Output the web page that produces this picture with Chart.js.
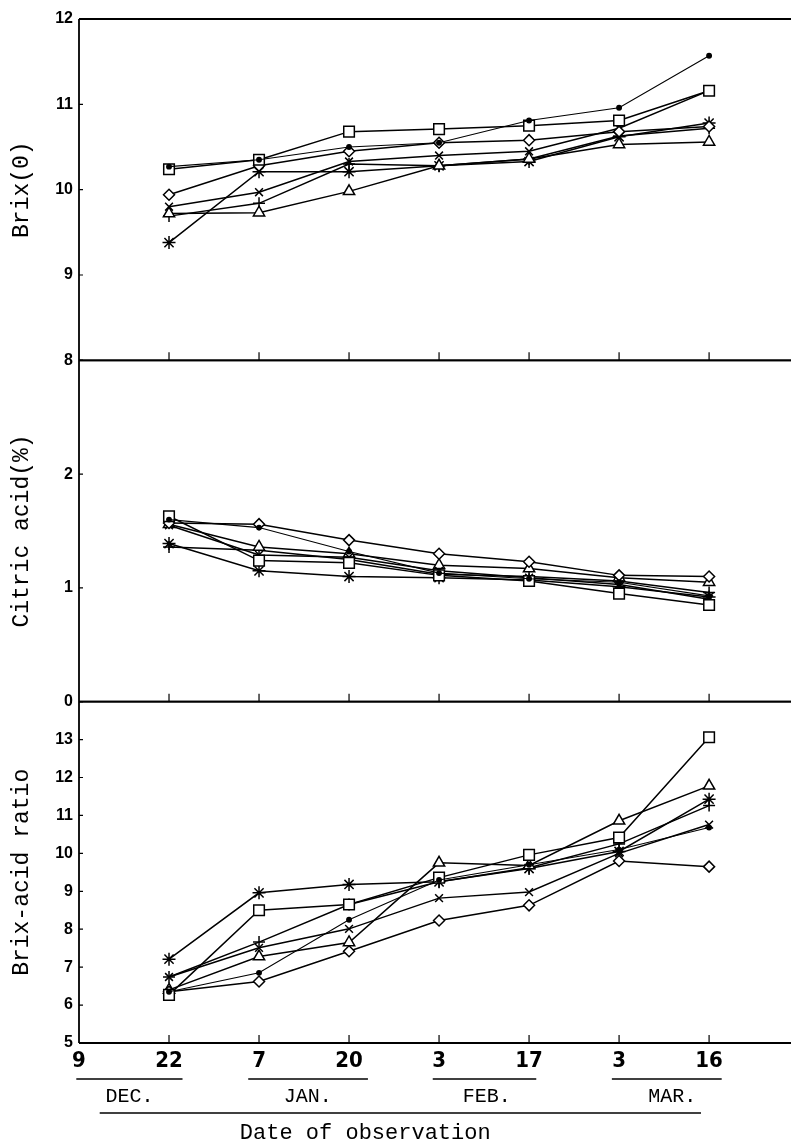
<!DOCTYPE html>
<html>
<head>
<meta charset="utf-8">
<script src="https://cdn.jsdelivr.net/npm/chart.js@4.4.0/dist/chart.umd.min.js"></script>
<style>
  html, body { margin: 0; padding: 0; background: #fff; }
  #wrap { position: relative; width: 791px; height: 1147px; }
  canvas { display: block; }
</style>
</head>
<body>
<div id="wrap"><canvas id="chart" width="791" height="1147"></canvas></div>
<script>
// x axis: observation dates (index 0 = Dec 9, no data there)
const dateLabels = ['9', '22', '7', '20', '3', '17', '3', '16'];
const months = ['DEC.', 'JAN.', 'FEB.', 'MAR.'];

// Brix (top panel), 7 dates from Dec 22 to Mar 16
const brixDot      = [10.27, 10.35, 10.50, 10.55, 10.81, 10.96, 11.57];
const brixSquare   = [10.24, 10.35, 10.68, 10.71, 10.75, 10.81, 11.16];
const brixDiamond  = [9.94, 10.28, 10.45, 10.55, 10.58, 10.68, 10.74];
const brixCross    = [9.80, 9.97, 10.33, 10.40, 10.45, 10.72, 11.16];
const brixTriangle = [9.72, 9.73, 9.98, 10.28, 10.36, 10.53, 10.56];
const brixPlus     = [9.69, 9.84, 10.30, 10.28, 10.36, 10.63, 10.72];
const brixStar     = [9.38, 10.21, 10.21, 10.28, 10.33, 10.62, 10.78];

// Citric acid % (middle panel)
const acidDot      = [1.60, 1.53, 1.32, 1.13, 1.08, 1.05, 0.93];
const acidSquare   = [1.63, 1.24, 1.22, 1.11, 1.06, 0.95, 0.85];
const acidDiamond  = [1.57, 1.56, 1.42, 1.30, 1.23, 1.11, 1.10];
const acidCross    = [1.55, 1.29, 1.27, 1.15, 1.09, 1.03, 0.90];
const acidTriangle = [1.56, 1.36, 1.30, 1.20, 1.17, 1.09, 1.05];
const acidPlus     = [1.36, 1.33, 1.25, 1.12, 1.10, 1.06, 0.96];
const acidStar     = [1.39, 1.15, 1.10, 1.09, 1.07, 1.01, 0.92];

// Brix-acid ratio (bottom panel)
const ratioDot      = [6.35, 6.85, 8.25, 9.30, 9.70, 10.10, 10.68];
const ratioSquare   = [6.27, 8.50, 8.65, 9.36, 9.96, 10.42, 13.06];
const ratioDiamond  = [6.35, 6.62, 7.42, 8.23, 8.63, 9.80, 9.65];
const ratioCross    = [6.74, 7.51, 8.01, 8.82, 8.98, 10.00, 10.76];
const ratioTriangle = [6.40, 7.28, 7.65, 9.75, 9.68, 10.86, 11.78];
const ratioPlus     = [6.74, 7.66, 8.65, 9.25, 9.62, 10.25, 11.26];
const ratioStar     = [7.21, 8.96, 9.18, 9.25, 9.60, 10.05, 11.43];

// marker look for each series
const markers = [
  { pointStyle: 'circle',   radius: 2.2, fill: '#000' },
  { pointStyle: 'rect',     radius: 7.5, fill: '#fff' },
  { pointStyle: 'rectRot',  radius: 5.5, fill: '#fff' },
  { pointStyle: 'crossRot', radius: 5.5, fill: '#fff' },
  { pointStyle: 'triangle', radius: 6.5, fill: '#fff' },
  { pointStyle: 'cross',    radius: 6,   fill: '#fff' },
  { pointStyle: 'star',     radius: 6.5, fill: '#fff' }
];

function makeSet(values, m, axis) {
  return {
    data: values.map((v, i) => ({ x: i + 1, y: v })),
    yAxisID: axis,
    borderColor: '#000',
    borderWidth: m.pointStyle === 'circle' ? 1.1 : 1.5,
    pointStyle: m.pointStyle,
    pointRadius: m.radius,
    pointBorderWidth: 1.5,
    pointBackgroundColor: m.fill,
    pointBorderColor: '#000',
    tension: 0,
    fill: false
  };
}

const groups = [
  ['yBrix',  [brixDot, brixSquare, brixDiamond, brixCross, brixTriangle, brixPlus, brixStar]],
  ['yAcid',  [acidDot, acidSquare, acidDiamond, acidCross, acidTriangle, acidPlus, acidStar]],
  ['yRatio', [ratioDot, ratioSquare, ratioDiamond, ratioCross, ratioTriangle, ratioPlus, ratioStar]]
];
const datasets = [];
groups.forEach(([axis, list]) => list.forEach((vals, k) => datasets.push(makeSet(vals, markers[k], axis))));

const tickFont = { family: 'Liberation Sans', size: 16, weight: 'bold' };
const titleFont = { family: 'Liberation Mono', size: 23 };

function yScale(min, max, title, hideMax) {
  return {
    type: 'linear', position: 'left', stack: 'panels', stackWeight: 1,
    min: min, max: max,
    grid: { display: false, drawTicks: false },
    border: { display: false },
    ticks: {
      stepSize: 1, autoSkip: false, color: '#000', font: tickFont, padding: 6,
      callback: v => (hideMax && v === max) ? '' : v
    },
    title: { display: true, text: title, color: '#000', font: titleFont, padding: { top: 8, bottom: 0 } },
    afterFit: s => { s.width = 79; s.paddingTop = 0; s.paddingBottom = 0; }
  };
}

// frame, inward ticks, month labels
const framePlugin = {
  id: 'frame',
  afterDraw(chart) {
    const ctx = chart.ctx;
    const a = chart.chartArea;
    const xs = chart.scales.x;
    ctx.save();
    ctx.strokeStyle = '#000';
    ctx.lineWidth = 1.8;
    ctx.beginPath();
    ctx.moveTo(a.left, a.top); ctx.lineTo(a.left, a.bottom);
    ctx.stroke();
    ['yBrix', 'yAcid', 'yRatio'].forEach(id => {
      const s = chart.scales[id];
      ctx.lineWidth = 1.8;
      ctx.beginPath();
      ctx.moveTo(a.left, s.top); ctx.lineTo(a.right, s.top);
      ctx.moveTo(a.left, s.bottom); ctx.lineTo(a.right, s.bottom);
      ctx.stroke();
      ctx.lineWidth = 1.2;
      ctx.beginPath();
      for (let i = 1; i < dateLabels.length; i++) {
        const px = xs.getPixelForValue(i);
        ctx.moveTo(px, s.bottom); ctx.lineTo(px, s.bottom - 8);
      }
      s.ticks.forEach(t => {
        const py = s.getPixelForValue(t.value);
        ctx.moveTo(a.left, py); ctx.lineTo(a.left + 4, py);
      });
      ctx.stroke();
    });

    // month names with their bars
    const monthCenter = [0.56, 2.54, 4.53, 6.59];
    const monthBar = [[-0.03, 1.15], [1.88, 3.21], [3.93, 5.08], [5.92, 7.14]];
    ctx.fillStyle = '#000';
    ctx.font = '20px "Liberation Mono"';
    ctx.textAlign = 'center';
    ctx.textBaseline = 'middle';
    ctx.lineWidth = 1.6;
    months.forEach((m, i) => {
      ctx.beginPath();
      ctx.moveTo(xs.getPixelForValue(monthBar[i][0]), a.bottom + 36);
      ctx.lineTo(xs.getPixelForValue(monthBar[i][1]), a.bottom + 36);
      ctx.stroke();
      ctx.fillText(m, xs.getPixelForValue(monthCenter[i]), a.bottom + 54);
    });
    ctx.beginPath();
    ctx.moveTo(xs.getPixelForValue(0.23), a.bottom + 70);
    ctx.lineTo(xs.getPixelForValue(6.91), a.bottom + 70);
    ctx.stroke();
    ctx.font = '22px "Liberation Mono"';
    ctx.fillText('Date of observation', xs.getPixelForValue(3.18), a.bottom + 90);
    ctx.restore();
  }
};

new Chart(document.getElementById('chart'), {
  type: 'line',
  data: { datasets: datasets },
  options: {
    responsive: false,
    animation: false,
    devicePixelRatio: 1,
    layout: { autoPadding: false, padding: { top: 19, right: 0, bottom: 0, left: 0 } },
    plugins: { legend: { display: false }, tooltip: { enabled: false } },
    scales: {
      x: {
        type: 'linear', min: 0, max: 7.91,
        grid: { display: false, drawTicks: false },
        border: { display: false },
        ticks: {
          stepSize: 1, includeBounds: false, autoSkip: false, maxRotation: 0,
          color: '#000', padding: 5,
          font: { family: '"Liberation Sans Narrow", "DejaVu Sans Condensed", "Liberation Sans"', size: 22, weight: 'bold' },
          callback: v => dateLabels[v] !== undefined ? dateLabels[v] : ''
        },
        afterFit: s => { s.height = 104; s.paddingLeft = 0; s.paddingRight = 0; }
      },
      // stacked panels are laid out bottom-up, so the lowest panel comes first
      yRatio: yScale(5, 14, 'Brix-acid ratio', true),
      yAcid: yScale(0, 3, 'Citric acid(%)', true),
      yBrix: yScale(8, 12, 'Brix(0)', false)
    }
  },
  plugins: [framePlugin]
});
</script>
</body>
</html>
